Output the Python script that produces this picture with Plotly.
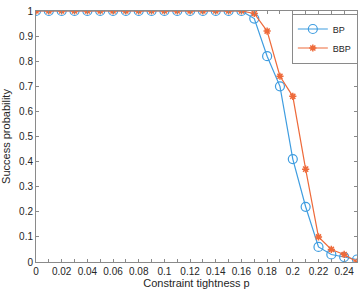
import plotly.graph_objects as go

p = [round(i * 0.01, 2) for i in range(26)]
bp = [1]*17 + [0.97, 0.82, 0.70, 0.41, 0.22, 0.06, 0.03, 0.02, 0.01]
bbp = [1]*17 + [0.99, 0.92, 0.74, 0.66, 0.37, 0.10, 0.05, 0.03, 0.0]
xtick_vals = p[:-1]
xtick_text = [("0" if v == 0 else f"{v:g}") if i % 2 == 0 else "" for i, v in enumerate(xtick_vals)]
ytick_vals = [round(i * 0.1, 1) for i in range(11)]
ytick_text = ["0"] + [f"{v:g}" for v in ytick_vals[1:-1]] + ["1"]

blue = "#3f9de0"
orange = "#ee6a3a"

fig = go.Figure()
fig.add_trace(go.Scatter(x=p, y=bp, name="BP", mode="lines+markers",
                         line=dict(color=blue, width=1.2),
                         marker=dict(symbol="circle-open", size=9, color=blue, line=dict(width=1.2))))
fig.add_trace(go.Scatter(x=p, y=bbp, name="BBP", mode="lines+markers",
                         line=dict(color=orange, width=1.2),
                         marker=dict(symbol="asterisk-open", size=6, color=orange, line=dict(width=1.5, color=orange))))

axis_common = dict(showgrid=False, zeroline=False, showline=True, linecolor="#8a8a8a", linewidth=1,
                   mirror="ticks", ticks="inside", ticklen=3, tickcolor="#8a8a8a",
                   tickfont=dict(family="Liberation Sans, Arial", size=10, color="#262626"))
fig.update_xaxes(range=[0, 0.25], tickvals=xtick_vals, ticktext=xtick_text,
                 title=dict(text="Constraint tightness p", standoff=2,
                            font=dict(family="Liberation Sans, Arial", size=11, color="#262626")),
                 **axis_common)
fig.update_yaxes(range=[0, 1], tickvals=ytick_vals, ticktext=ytick_text,
                 title=dict(text="Success probability", standoff=6,
                            font=dict(family="Liberation Sans, Arial", size=11, color="#262626")),
                 **axis_common)
fig.update_layout(width=363, height=296, margin=dict(l=33, r=5, t=6, b=34),
                  plot_bgcolor="white", paper_bgcolor="white",
                  legend=dict(x=0.797, y=0.99, xanchor="left", yanchor="top",
                              bordercolor="#8a8a8a", borderwidth=1, bgcolor="white",
                              font=dict(family="Liberation Sans, Arial", size=9, color="#262626"),
                              tracegroupgap=0, itemwidth=30))
fig.write_html("out.html", config={"displayModeBar": False},
               post_script="document.body.style.margin='0';document.body.style.overflow='hidden';")
